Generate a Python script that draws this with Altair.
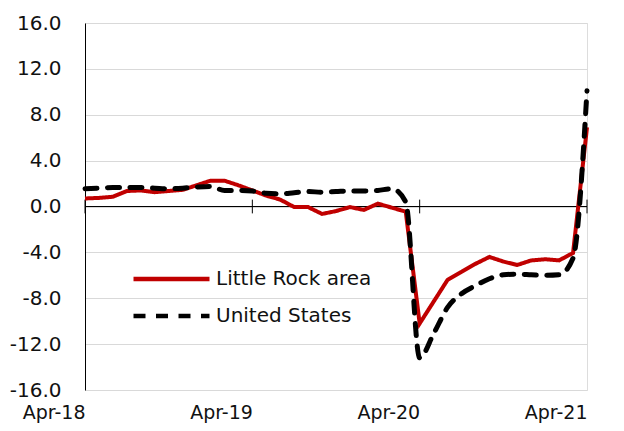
import altair as alt
import pandas as pd

months = [d.strftime("%b-%y") for d in pd.date_range("2018-04-01", "2021-04-01", freq="MS")]
year_ticks = ["Apr-18", "Apr-19", "Apr-20", "Apr-21"]
y_ticks = [-16, -12, -8, -4, 0, 4, 8, 12, 16]
series_names = ["Little Rock area", "United States"]

little_rock = [0.7, 0.75, 0.85, 1.35, 1.4, 1.25, 1.35, 1.45, 1.85, 2.25, 2.25, 1.85,
               1.4, 0.95, 0.6, -0.05, -0.05, -0.65, -0.4, -0.05, -0.3, 0.25, -0.1, -0.45,
               -10.2, -8.3, -6.4, -5.7, -5.0, -4.4, -4.8, -5.1, -4.7, -4.6, -4.7, -4.05,
               6.9]
united_states = [1.55, 1.6, 1.65, 1.65, 1.65, 1.6, 1.55, 1.6, 1.7, 1.75, 1.4, 1.4,
                 1.35, 1.15, 1.1, 1.2, 1.3, 1.25, 1.3, 1.35, 1.35, 1.4, 1.55, 0.4,
                 -13.2, -11.1, -8.8, -7.6, -6.9, -6.3, -5.95, -5.9, -5.95, -6.0, -5.95, -4.5,
                 10.1]

df = pd.DataFrame({
    "month": months * 2,
    "series": [series_names[0]] * len(months) + [series_names[1]] * len(months),
    "value": little_rock + united_states,
})

FONT = "DejaVu Sans"
TEXT = "#111111"
xscale = alt.Scale(type="point", padding=0, domain=months)
yscale = alt.Scale(domain=[-16, 16], nice=False)
color_scale = alt.Scale(domain=series_names, range=["#c00000", "#000000"])
dash_scale = alt.Scale(domain=series_names, range=[[1, 0], [12, 10.5]])

legend = alt.Legend(
    title=None, orient="none", legendX=46, legendY=246,
    symbolType="stroke", symbolSize=5776, symbolStrokeWidth=4.5,
    labelFontSize=20, labelFont=FONT, labelColor=TEXT, labelOffset=4,
    clipHeight=20, rowPadding=17, labelLimit=300, padding=0,
)

base = alt.Chart(df)

xenc = alt.X("month:O", scale=xscale, sort=months,
             axis=alt.Axis(values=year_ticks, labelAngle=0, title=None, domain=False,
                           ticks=False, grid=False, labelFontSize=19, labelFont=FONT,
                           labelColor=TEXT, labelPadding=22))
yenc = alt.Y("value:Q", scale=yscale,
             axis=alt.Axis(values=y_ticks, title=None, domain=True, domainColor="#000000",
                           domainWidth=1, ticks=False, grid=True, gridColor="#d9d9d9",
                           labelFontSize=20, labelFont=FONT, labelColor=TEXT,
                           labelPadding=24,
                           labelExpr="(datum.value < 0 ? '-' : '') + format(abs(datum.value), '.1f')"))

zero = alt.Chart(pd.DataFrame({"v": [0]})).mark_rule(color="#000000", strokeWidth=1).encode(
    y=alt.Y("v:Q", scale=yscale))

ticks = alt.Chart(pd.DataFrame({"month": year_ticks})).mark_rule(color="#000000", strokeWidth=1).encode(
    x=alt.X("month:O", scale=xscale, sort=months),
    y=alt.datum(-0.6), y2=alt.datum(0.6))

lr = base.transform_filter(alt.datum.series == series_names[0]).mark_line(
    strokeWidth=4, strokeCap="butt", strokeJoin="miter").encode(
    x=xenc, y=yenc,
    color=alt.Color("series:N", scale=color_scale, legend=legend),
    strokeDash=alt.StrokeDash("series:N", scale=dash_scale, legend=legend),
)
us = base.transform_filter(alt.datum.series == series_names[1]).mark_line(
    strokeWidth=5, strokeCap="round", interpolate="monotone").encode(
    x=xenc, y=yenc,
    color=alt.Color("series:N", scale=color_scale, legend=legend),
    strokeDash=alt.StrokeDash("series:N", scale=dash_scale, legend=legend),
)

chart = alt.layer(zero, ticks, lr, us).properties(
    width=502, height=367,
    autosize=alt.AutoSizeParams(type="none"),
    padding={"left": 77, "top": 15, "right": 29, "bottom": 33},
).configure_view(stroke="#c0c0c0", strokeWidth=1).configure(background="white")

chart.save("out.html", embed_options={"renderer": "svg", "actions": False})
